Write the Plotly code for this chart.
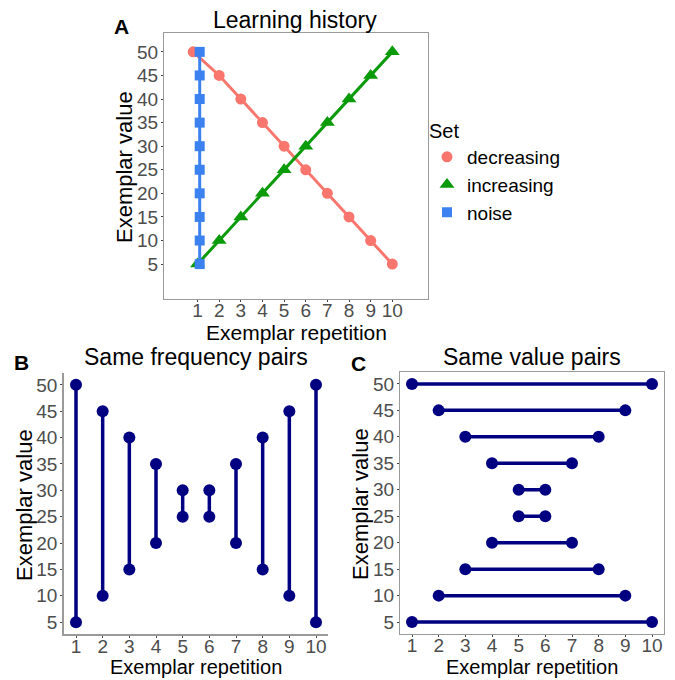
import plotly.graph_objects as go

# ---- data ----
reps = [1, 2, 3, 4, 5, 6, 7, 8, 9, 10]
decreasing = [50, 45, 40, 35, 30, 25, 20, 15, 10, 5]
decreasing_x = [0.8, 2, 3, 4, 5, 6, 7, 8, 9, 10]
increasing = [5, 10, 15, 20, 25, 30, 35, 40, 45, 50]
noise_x = [1.1] * 10
noise = [5, 10, 15, 20, 25, 30, 35, 40, 45, 50]

freq_x = [1, 2, 3, 4, 5, 6, 7, 8, 9, 10]
freq_low = [5, 10, 15, 20, 25, 25, 20, 15, 10, 5]
freq_high = [50, 45, 40, 35, 30, 30, 35, 40, 45, 50]

val_y = [50, 45, 40, 35, 30, 25, 20, 15, 10, 5]
val_start = [1, 2, 3, 4, 5, 5, 4, 3, 2, 1]
val_end = [10, 9, 8, 7, 6, 6, 7, 8, 9, 10]

value_ticks = [5, 10, 15, 20, 25, 30, 35, 40, 45, 50]

FONT = "Liberation Sans, Arial, sans-serif"
RED = "#F8766D"
GREEN = "#0A9A0A"
BLUE = "#3B82F0"
NAVY = "#000080"

fig = go.Figure()

# Panel A (lines + markers, legend via marker-only entries)
series = [
    ("decreasing", decreasing_x, decreasing, RED, "circle", 11),
    ("increasing", reps, increasing, GREEN, "triangle-up", 13),
    ("noise", noise_x, noise, BLUE, "square", 10),
]
for name, xs, ys, col, sym, sz in series:
    fig.add_trace(go.Scatter(x=xs, y=ys, mode="lines+markers", name=name, showlegend=False,
                             line=dict(color=col, width=3), marker=dict(symbol=sym, size=sz, color=col),
                             xaxis="x", yaxis="y"))
for name, xs, ys, col, sym, sz in series:
    fig.add_trace(go.Scatter(x=[None], y=[None], mode="markers", name=name, showlegend=True,
                             marker=dict(symbol=sym, size=sz, color=col),
                             xaxis="x", yaxis="y"))

# Panel B
bx, by = [], []
for x, lo, hi in zip(freq_x, freq_low, freq_high):
    bx += [x, x, None]
    by += [lo, hi, None]
fig.add_trace(go.Scatter(x=bx, y=by, mode="lines+markers", showlegend=False,
                         line=dict(color=NAVY, width=3.5), marker=dict(size=12, color=NAVY),
                         xaxis="x2", yaxis="y2"))

# Panel C
cx, cy = [], []
for y, s, e in zip(val_y, val_start, val_end):
    cx += [s, e, None]
    cy += [y, y, None]
fig.add_trace(go.Scatter(x=cx, y=cy, mode="lines+markers", showlegend=False,
                         line=dict(color=NAVY, width=3.5), marker=dict(size=12, color=NAVY),
                         xaxis="x3", yaxis="y3"))

W, H = 675, 680
def dx(a, b):
    return [a / W, b / W]
def dy(top, bottom):
    return [1 - bottom / H, 1 - top / H]

tickfont = dict(family=FONT, size=19, color="#4D4D4D")

common_x = dict(tickmode="array", tickvals=reps, tickfont=tickfont, showgrid=False, zeroline=False,
                ticks="outside", ticklen=2, tickcolor="#444444", ticklabelstandoff=-8)
common_y = dict(tickmode="array", tickvals=value_ticks, tickfont=tickfont, showgrid=False, zeroline=False,
                ticks="outside", ticklen=2, tickcolor="#444444", ticklabelstandoff=-1)

fig.update_layout(
    width=W, height=H, margin=dict(l=0, r=0, t=0, b=0),
    plot_bgcolor="white", paper_bgcolor="white",
    font=dict(family=FONT),
    xaxis=dict(domain=dx(164, 428), range=[-0.55, 11.65], anchor="y",
               showline=True, mirror=True, linecolor="#9A9A9A", linewidth=1, **common_x),
    yaxis=dict(domain=dy(33, 299), range=[-2.4, 54], anchor="x",
               showline=True, mirror=True, linecolor="#9A9A9A", linewidth=1, **common_y),
    xaxis2=dict(domain=dx(64, 328), range=[0.55, 10.45], anchor="y2",
                showline=True, linecolor="#9A9A9A", linewidth=1.5, **common_x),
    yaxis2=dict(domain=dy(373, 634), range=[2.75, 52.25], anchor="x2",
                showline=True, linecolor="#9A9A9A", linewidth=1.5, **common_y),
    xaxis3=dict(domain=dx(400, 664), range=[0.55, 10.45], anchor="y3",
                showline=True, mirror=True, linecolor="#9A9A9A", linewidth=1, **common_x),
    yaxis3=dict(domain=dy(372, 634), range=[2.75, 52.25], anchor="x3",
                showline=True, mirror=True, linecolor="#9A9A9A", linewidth=1, **common_y),
    legend=dict(x=427 / W, y=1 - 112 / H, xanchor="left", yanchor="top",
                title=dict(text="Set", font=dict(family=FONT, size=20, color="black")),
                font=dict(family=FONT, size=19, color="black"),
                itemwidth=30, tracegroupgap=0, bgcolor="rgba(0,0,0,0)"),
)

def txt(text, x, y, size, angle=0, yanchor="middle"):
    fig.add_annotation(text=text, x=x / W, y=1 - y / H, xref="paper", yref="paper",
                       showarrow=False, xanchor="center", yanchor=yanchor, textangle=angle,
                       font=dict(family=FONT, size=size, color="black"))

# panel titles
txt("Learning history", 295, 20, 23)
txt("Same frequency pairs", 196, 357, 23)
txt("Same value pairs", 532, 357, 23)
# panel letters
txt("<b>A</b>", 122, 27, 21)
txt("<b>B</b>", 21, 362, 21)
txt("<b>C</b>", 358, 363, 21)
# axis titles
txt("Exemplar repetition", 296, 332, 21)
txt("Exemplar repetition", 196, 680, 20, yanchor="bottom")
txt("Exemplar repetition", 532, 680, 20, yanchor="bottom")
txt("Exemplar value", 124, 167, 22, -90)
txt("Exemplar value", 24, 505, 22, -90)
txt("Exemplar value", 360, 504, 22, -90)

fig.write_html("out.html")
